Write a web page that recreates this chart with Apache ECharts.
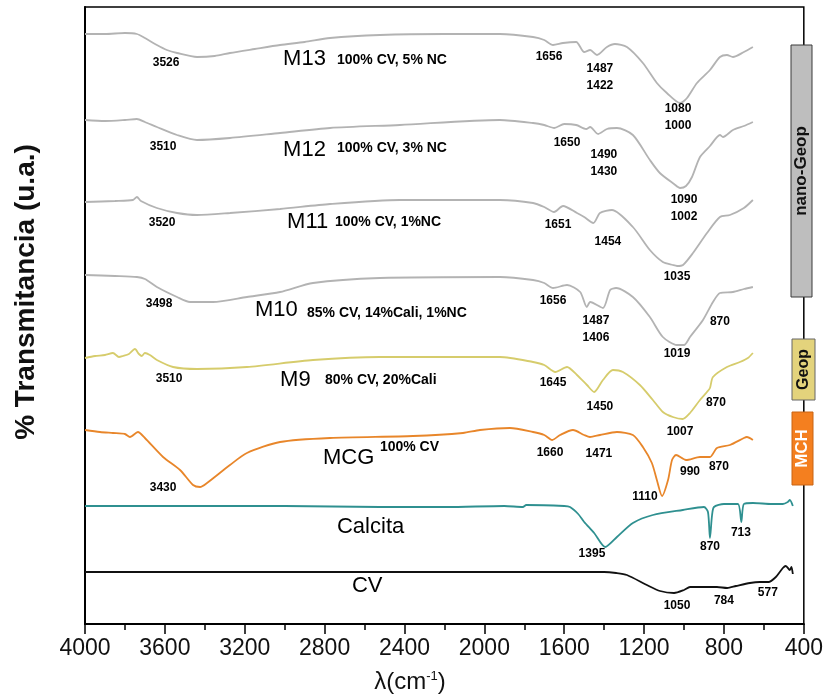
<!DOCTYPE html>
<html><head><meta charset="utf-8">
<script src="https://cdn.jsdelivr.net/npm/echarts@6/dist/echarts.min.js"></script>
<style>html,body{margin:0;padding:0;background:#fff}#c{width:826px;height:695px}</style>
</head><body><div id="c"></div>
<script>
// ---- spectra (wavenumber cm-1, transmittance in arbitrary stacked units) ----
const wn_M13 = [4000,3900,3800,3740,3700,3640,3590,3539,3439,3350,3274,3150,3023,2900,2773,2523,2200,1922,1756,1700,1656,1606,1540,1500,1470,1436,1386,1346,1286,1206,1136,1086,1020,985,935,870,820,785,755,700,655];
const t_M13  = [590,590,591,590,586,579,574,571,567,568,571,575,579,582,586,589,590,590,587,584,579,581,582,572,574,569,577,580,577,561,541,531,521,526,541,554,567,569,567,572,577];

const wn_M12 = [4000,3900,3800,3740,3700,3640,3539,3439,3274,3023,2773,2423,1922,1756,1700,1650,1600,1540,1490,1470,1430,1386,1336,1256,1171,1121,1050,1020,990,960,920,870,820,805,755,700,655];
const t_M12  = [504,503,504,505,502,497,489,484,486,491,496,499,504,501,499,496,500,499,495,497,490,495,496,489,464,451,440,436,438,447,467,478,489,487,494,498,502];

const wn_M11 = [4000,3850,3760,3740,3720,3640,3539,3439,3274,3023,2773,2423,1922,1756,1700,1651,1606,1536,1500,1454,1421,1361,1256,1171,1106,1056,1035,1005,955,885,820,770,700,655];
const t_M11  = [422,423,424,427,423,416,411,409,411,415,420,424,424,421,417,412,418,411,407,401,411,414,397,374,362,359,358,359,371,391,407,409,416,424];

const wn_M10 = [4000,3850,3740,3700,3640,3539,3474,3359,3189,3023,2858,2523,1922,1756,1700,1656,1586,1520,1487,1470,1406,1370,1340,1256,1171,1106,1036,1000,970,905,855,820,755,700,655];
const t_M10  = [349,348,347,345,337,327,322,322,327,332,341,346,347,344,341,336,339,332,317,322,316,334,336,327,307,287,279,279,287,304,322,331,332,335,337];

const wn_M9 = [4000,3950,3900,3860,3830,3810,3780,3750,3730,3715,3700,3675,3640,3559,3439,3189,2858,2523,1922,1756,1700,1645,1586,1536,1486,1450,1406,1356,1306,1221,1156,1106,1056,1007,970,920,885,870,855,785,720,680,655];
const t_M9  = [266,268,269,271,267,268,270,275,270,268,271,269,264,257,255,257,264,267,267,262,259,252,257,249,239,232,244,254,252,239,224,212,207,205,211,224,232,236,247,257,262,266,271];

const wn_MCG = [4000,3925,3860,3800,3775,3735,3700,3609,3524,3459,3424,3389,3274,3189,3023,2773,2357,2107,2022,1872,1756,1700,1660,1621,1556,1500,1471,1421,1336,1256,1206,1161,1136,1110,1080,1060,1040,990,920,870,835,770,700,685,655];
const t_MCG  = [194,192,191,190,187,192,186,167,154,139,137,141,159,171,182,186,188,191,194,196,192,189,184,189,194,189,187,189,192,189,177,161,144,128,144,164,169,164,167,167,176,179,186,187,184];

const wn_Cal = [4000,3000,2523,2187,1900,1807,1790,1600,1571,1530,1500,1450,1395,1336,1256,1156,1006,900,880,870,860,850,800,730,713,700,655,560,505,480,470,455];
const t_Cal  = [118,118,117,117,118,117,119,118,117,110,102,91,77,87,101,109,114,117,112,86,108,117,120,120,102,120,121,120,120,122,124,118];

const wn_CV = [4000,3000,2000,1400,1340,1286,1186,1120,1050,1000,970,900,835,784,740,670,620,577,540,505,490,470,462,455];
const t_CV  = [52,52,52,52,51,49,39,33,31,34,37,37,37,36,38,41,42,42,47,56,58,54,57,50];

// ---- text annotations: [wavenumber, value, text] ----
const peakLabels = [
  [3594,561,'3526'],[1676,567,'1656'],[1421,555,'1487'],[1421,538,'1422'],[1030,515,'1080'],[1030,498,'1000'],
  [3609,477,'3510'],[1586,481,'1650'],[1401,469,'1490'],[1401,452,'1430'],[1000,424,'1090'],[1000,407,'1002'],
  [3614,401,'3520'],[1631,399,'1651'],[1381,382,'1454'],[1035,347,'1035'],
  [3629,320,'3498'],[1656,323,'1656'],[1441,303,'1487'],[1441,286,'1406'],[1035,270,'1019'],[820,302,'870'],
  [3579,245,'3510'],[1656,241,'1645'],[1421,217,'1450'],[1020,192,'1007'],[840,221,'870'],
  [3609,136,'3430'],[1671,171,'1660'],[1426,170,'1471'],[1196,127,'1110'],[970,152,'990'],[825,157,'870'],
  [1461,70,'1395'],[870,77,'870'],[715,91,'713'],
  [1035,18,'1050'],[800,23,'784'],[580,31,'577']
];
const sampleNames = [
  [3008,565,'M13'],[3008,474,'M12'],[2988,402,'M11'],[3149,314,'M10'],[3023,244,'M9'],[2808,166,'MCG'],[2738,97,'Calcita'],[2663,38,'CV']
];
const sampleDesc = [
  [2738,564,'100% CV, 5% NC'],[2738,476,'100% CV, 3% NC'],[2748,402,'100% CV, 1%NC'],
  [2888,311,'85% CV, 14%Cali, 1%NC'],[2798,244,'80% CV, 20%Cali'],[2523,177,'100% CV']
];

const FONT = "'Liberation Sans', Arial, sans-serif";
const spectra = [
  {name:'M13', wn:wn_M13, t:t_M13, color:'#b3b3b3'},
  {name:'M12', wn:wn_M12, t:t_M12, color:'#b3b3b3'},
  {name:'M11', wn:wn_M11, t:t_M11, color:'#b3b3b3'},
  {name:'M10', wn:wn_M10, t:t_M10, color:'#b3b3b3'},
  {name:'M9',  wn:wn_M9,  t:t_M9,  color:'#d6cc6c'},
  {name:'MCG', wn:wn_MCG, t:t_MCG, color:'#e8862a'},
  {name:'Calcita', wn:wn_Cal, t:t_Cal, color:'#2f9090'},
  {name:'CV', wn:wn_CV, t:t_CV, color:'#111111'}
];

const series = spectra.map(s => ({
  type:'line', name:s.name, data:s.wn.map((w,i)=>[w, s.t[i]]),
  showSymbol:false, symbol:'none', smooth:0.25, silent:true, z:3,
  lineStyle:{color:s.color, width:1.8}
}));
function textSeries(arr, label){
  return {type:'scatter', silent:true, z:6, symbolSize:0, itemStyle:{color:'#000', opacity:1},
    data: arr.map(a => ({value:[a[0],a[1]], label:{formatter:a[2]}})),
    label: Object.assign({show:true, fontFamily:FONT, opacity:1, textBorderWidth:0}, label)};
}
series.push(textSeries(peakLabels, {position:'inside', fontSize:12, fontWeight:'bold', color:'#000'}));
series.push(textSeries(sampleNames, {position:'right', distance:0, fontSize:22, color:'#000'}));
series.push(textSeries(sampleDesc, {position:'right', distance:0, fontSize:14, fontWeight:'bold', color:'#000'}));

function sideBox(x,y,w,h,fill,stroke,text,tc,fs){
  return [
    {type:'rect', z:100, shape:{x:x,y:y,width:w,height:h}, style:{fill:fill, stroke:stroke, lineWidth:1}},
    {type:'text', z:101, x:x+w/2, y:y+h/2, rotation:Math.PI/2,
     style:{text:text, fontSize:fs, fontWeight:'bold', fontFamily:FONT, fill:tc, align:'center', verticalAlign:'middle'}}
  ];
}

const chart = echarts.init(document.getElementById('c'), null, {renderer:'canvas'});
chart.setOption({
  animation:false,
  backgroundColor:'#fff',
  grid:{left:85, right:22, top:7, bottom:71, show:true, borderColor:'#000', borderWidth:1.5},
  xAxis:{type:'value', inverse:true, min:400, max:4000, interval:400,
    axisLine:{show:true, onZero:false, lineStyle:{color:'#000', width:2}},
    axisTick:{show:true, length:10, lineStyle:{color:'#000', width:1.5}},
    minorTick:{show:true, splitNumber:2, length:6, lineStyle:{color:'#000', width:1.5}},
    axisLabel:{fontSize:23, color:'#111', margin:13, fontFamily:FONT, formatter:v => String(v)},
    splitLine:{show:false}},
  yAxis:{type:'value', min:0, max:617,
    axisLine:{show:true, lineStyle:{color:'#000', width:2}},
    axisTick:{show:false}, axisLabel:{show:false}, splitLine:{show:false}},
  series: series,
  graphic: [
    {type:'text', x:26, y:292, rotation:Math.PI/2,
     style:{text:'% Transmitancia (u.a.)', fontSize:28, fontWeight:'bold', fontFamily:FONT, fill:'#111', align:'center', verticalAlign:'middle'}},
    {type:'text', x:410, y:682,
     style:{text:'λ(cm{s|-1})', fontSize:24, fontFamily:FONT, fill:'#111', align:'center', verticalAlign:'middle',
       rich:{s:{fontSize:13, fontFamily:FONT, fill:'#111', verticalAlign:'top'}}}},
    ...sideBox(791,45,21,252,'#bebebe','#3a3a3a','nano-Geop','#111',17),
    ...sideBox(792,339,23,61,'#e3d37c','#666','Geop','#111',16),
    ...sideBox(792,412,21,73,'#f47f1f','#c86414','MCH','#fff',17)
  ]
});
</script></body></html>
